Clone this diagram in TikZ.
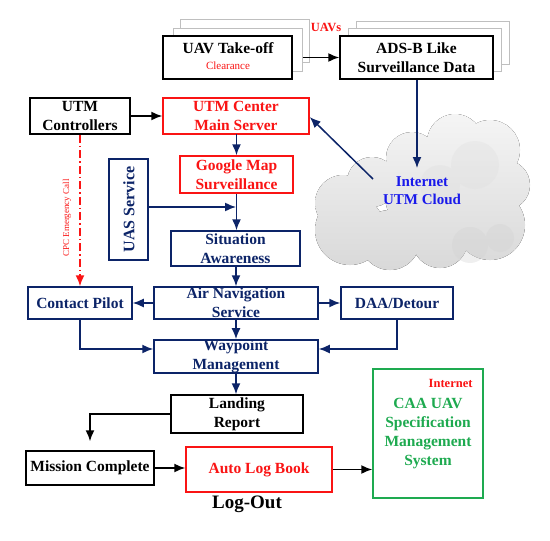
\documentclass[tikz,border=0pt]{standalone}
\usepackage{fontspec}
\setmainfont{Liberation Serif}
\usetikzlibrary{arrows.meta}
\definecolor{navy}{RGB}{12,36,104}
\definecolor{myred}{RGB}{250,20,20}
\definecolor{mygreen}{RGB}{30,170,80}
\definecolor{myblue}{RGB}{25,25,235}
\begin{document}
\begin{tikzpicture}[x=1pt,y=-1pt,
  box/.style={draw,line width=1.5pt,fill=white,inner sep=0pt,align=center,
    font=\fontsize{15.5}{19}\selectfont\bfseries},
  blk/.style={box,draw=black,text=black},
  nav/.style={box,draw=navy,text=navy},
  rbox/.style={box,draw=myred,text=myred},
  shad/.style={draw=gray!50,line width=0.8pt,fill=white},
  tip/.style={-{Latex[length=11pt,width=9pt]}},
  arr/.style={line width=1.5pt,tip},
  narr/.style={arr,draw=navy},
  barr/.style={arr,draw=black}]
\useasboundingbox (0,0) rectangle (550,541);

% cloud
\fill[top color=gray!8,bottom color=gray!30]
  (350,230) circle (35) (390,240) circle (30) (440,240) circle (28)
  (490,225) circle (35) (505,185) circle (25) (490,150) circle (30)
  (455,142) circle (28) (412,158) circle (26) (372,182) circle (25)
  (343,203) circle (28) (430,195) circle (45) (472,200) circle (40);
\fill[gray!25,opacity=0.35] (475,165) circle (24) (440,185) circle (20);
\fill[gray!35,opacity=0.35] (470,245) circle (18) (500,238) circle (14);
\node[text=myblue,font=\fontsize{15}{18}\selectfont\bfseries,align=center] (cloudtxt) at (422,191) {Internet\\UTM Cloud};
\coordinate (cin) at (417,168);
\coordinate (cout) at (373,179);

% UAV stacks
\draw[shad] (180,19) rectangle ++(129,43);
\draw[shad] (173,28) rectangle ++(129,43);
\node[blk,minimum width=129pt,minimum height=43pt] (take) at (227.5,57.5) {};
\node[font=\fontsize{15.5}{19}\selectfont\bfseries] (taket) at (228,48) {UAV Take-off};
\node[text=myred,font=\fontsize{11}{13}\selectfont] (clr) at (228,65.5) {Clearance};
\draw[shad] (356,21) rectangle ++(153,43);
\draw[shad] (348,28) rectangle ++(153,43);
\node[blk,minimum width=153pt,minimum height=43pt] (ads) at (416.5,57.5) {ADS-B Like\\Surveillance Data};
\node[text=myred,font=\fontsize{12.5}{14}\selectfont\bfseries] (uavs) at (326,27) {UAVs};

% boxes
\node[blk,minimum width=100pt,minimum height=36pt] (ctrl) at (80,116) {UTM\\Controllers};
\node[rbox,minimum width=146pt,minimum height=36pt] (server) at (236,116) {UTM Center\\Main Server};
\node[rbox,minimum width=113pt,minimum height=37pt] (gmap) at (236.5,174.5) {Google Map\\Surveillance};
\node[nav,minimum width=39pt,minimum height=101pt] (uas) at (128.5,209.5) {};
\node[text=navy,rotate=90,font=\fontsize{16}{19}\selectfont\bfseries] (uast) at (129,209.5) {UAS Service};
\node[nav,minimum width=129pt,minimum height=35pt] (sit) at (235.5,248.5) {Situation\\Awareness};
\node[nav,minimum width=164pt,minimum height=32pt] (anav) at (236,303) {Air Navigation\\Service};
\node[nav,minimum width=104pt,minimum height=32pt] (pilot) at (80,303) {Contact Pilot};
\node[nav,minimum width=112pt,minimum height=32pt] (daa) at (397,303) {DAA/Detour};
\node[nav,minimum width=164pt,minimum height=33pt] (wp) at (236,356.5) {Waypoint\\Management};
\node[blk,minimum width=132pt,minimum height=38pt] (land) at (237,414) {Landing\\Report};
\node[blk,minimum width=128pt,minimum height=34pt] (mission) at (90,468) {Mission Complete};
\node[rbox,minimum width=146pt,minimum height=45pt] (alog) at (259,469.5) {Auto Log Book};
\node[box,draw=mygreen,minimum width=110pt,minimum height=129pt] (caa) at (428,433.5) {};
\node[text=myred,font=\fontsize{12.5}{14}\selectfont\bfseries,anchor=east] (inet) at (476,383) {Internet};
\node[text=mygreen,font=\fontsize{15.5}{19}\selectfont\bfseries,align=center] (caat) at (428,433.5) {CAA UAV\\Specification\\Management\\System};
\node[font=\fontsize{19}{22}\selectfont\bfseries] (logout) at (247,504) {Log-Out};

% connectors
\draw[barr] ([xshift=10pt]take.east) -- (ads.west);
\draw[narr] (ads.south -| cin) -- (cin);
\draw[narr] (cout) -- ([yshift=-1pt]server.east);
\draw[barr] (ctrl.east) -- (server.west);
\draw[narr] (server.south) -- (gmap.south |- server.south) -- (gmap.north);
\draw[narr] (gmap.south) -- (gmap.south |- sit.north);
\coordinate (jn) at (236,207);
\draw[narr] (uas.east |- jn) -- (jn);
\draw[narr] (sit.south -| anav.north) -- (anav.north);
\draw[narr] (anav.west) -- (pilot.east);
\draw[narr] (anav.east) -- (daa.west);
\draw[narr] (anav.south) -- (wp.north);
\draw[narr] (pilot.south) |- ([yshift=7.5pt]wp.west);
\draw[narr] (daa.south) |- ([yshift=7.5pt]wp.east);
\draw[narr] (wp.south) -- (wp.south |- land.north);
\draw[barr] (land.west) -| ([yshift=9pt]mission.north);
\draw[barr] (mission.east) -- (mission.east -| alog.west);
\draw[barr] (alog.east) -- (alog.east -| caa.west);
\draw[myred,line width=1.5pt,dash pattern=on 8pt off 3pt on 1.5pt off 3pt,tip] (ctrl.south) -- (pilot.north);
\node[text=myred,rotate=90,font=\fontsize{9}{11}\selectfont] (cpc) at (67,218) {CPC Emergency Call};
\end{tikzpicture}
\end{document}
